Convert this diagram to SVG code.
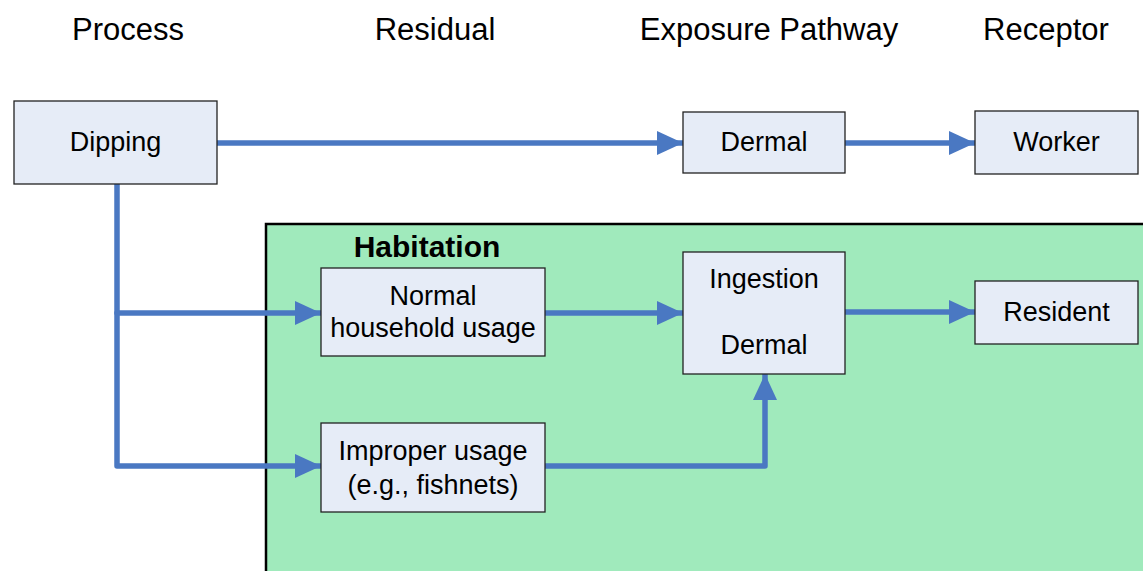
<svg xmlns="http://www.w3.org/2000/svg" width="1143" height="571" viewBox="0 0 1143 571">
<defs>
<style>
.box{fill:#E6ECF7;stroke:#222;stroke-width:1.3}
.t{font-family:"Liberation Sans",Arial,sans-serif;font-size:27px;fill:#000;text-anchor:middle}
.h{font-family:"Liberation Sans",Arial,sans-serif;font-size:31px;fill:#000;text-anchor:middle}
.c{fill:none;stroke:#4A78C2;stroke-width:5.5;stroke-linecap:round;stroke-linejoin:round}
</style>
<marker id="ah" markerUnits="userSpaceOnUse" markerWidth="26" markerHeight="26" viewBox="0 0 26 26" refX="26" refY="13" orient="auto">
<path d="M0,1 L26,13 L0,25 Z" fill="#4A78C2"/>
</marker>
</defs>
<rect width="1143" height="571" fill="#fff"/>
<g id="headers">
<text class="h" x="128" y="40">Process</text>
<text class="h" x="435" y="40">Residual</text>
<text class="h" x="769" y="40">Exposure Pathway</text>
<text class="h" x="1046" y="40">Receptor</text>
</g>
<g id="habitation">
<rect x="266" y="224" width="882" height="360" fill="#A0EABC" stroke="#000" stroke-width="2.5"/>
<text x="427" y="257" font-family="Liberation Sans,Arial,sans-serif" font-size="30" font-weight="bold" text-anchor="middle">Habitation</text>
</g>
<g id="connectors">
<path class="c" d="M217,143 H683" marker-end="url(#ah)"/>
<path class="c" d="M845,143 H975" marker-end="url(#ah)"/>
<path class="c" d="M117,184 V466 H321" marker-end="url(#ah)"/>
<path class="c" d="M117,313 H321" marker-end="url(#ah)"/>
<path class="c" d="M545,313 H683" marker-end="url(#ah)"/>
<path class="c" d="M845,312 H975" marker-end="url(#ah)"/>
<path class="c" d="M545,466 H765 V374" marker-end="url(#ah)"/>
</g>
<g id="dipping"><rect class="box" x="14" y="101" width="203" height="83"/><text class="t" x="115.5" y="151">Dipping</text></g>
<g id="dermal"><rect class="box" x="683" y="112" width="162" height="61"/><text class="t" x="764" y="151">Dermal</text></g>
<g id="worker"><rect class="box" x="975" y="111" width="163" height="63"/><text class="t" x="1056.5" y="151">Worker</text></g>
<g id="normal"><rect class="box" x="321" y="268" width="224" height="88"/><text class="t" x="433" y="305">Normal</text><text class="t" x="433" y="337">household usage</text></g>
<g id="ingestion"><rect class="box" x="683" y="252" width="162" height="122"/><text class="t" x="764" y="288">Ingestion</text><text class="t" x="764" y="354">Dermal</text></g>
<g id="resident"><rect class="box" x="975" y="281" width="163" height="63"/><text class="t" x="1056.5" y="321">Resident</text></g>
<g id="improper"><rect class="box" x="321" y="423" width="224" height="89"/><text class="t" x="433" y="460">Improper usage</text><text class="t" x="433" y="494">(e.g., fishnets)</text></g>
</svg>
